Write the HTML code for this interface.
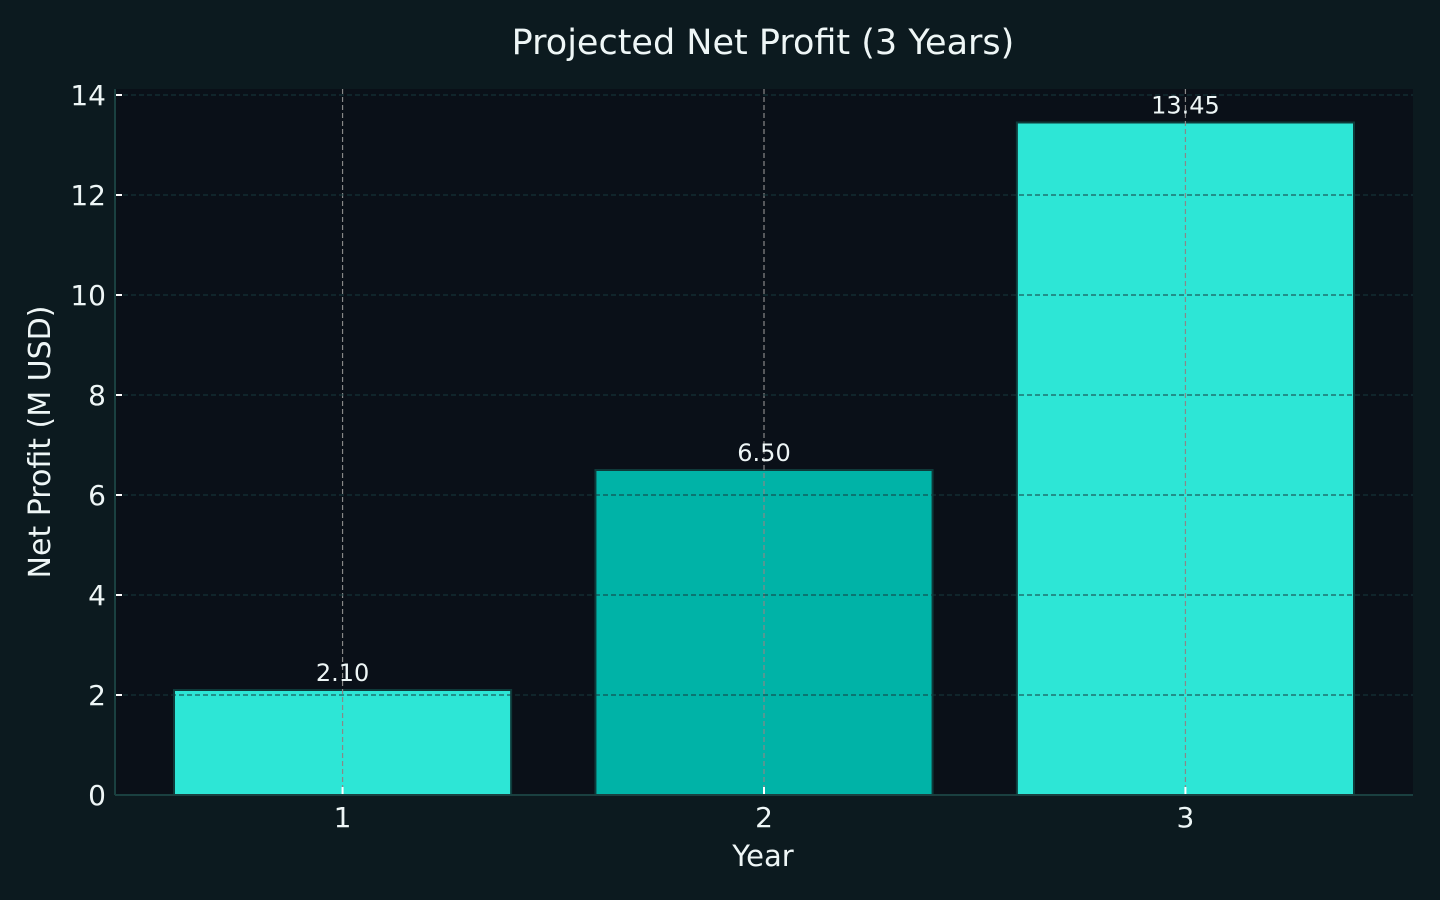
<!DOCTYPE html>
<html><head><meta charset="utf-8"><style>
html,body{margin:0;padding:0;background:#0c1a1f;}
svg{display:block;font-family:"DejaVu Sans","Liberation Sans",sans-serif;}
</style></head><body>
<svg id="chart" width="1440" height="900" viewBox="0 0 1440 900">
<rect x="0" y="0" width="1440" height="900" fill="#0c1a1f"/>
<rect x="115" y="89" width="1298" height="706" fill="#0a1018"/>
<text x="763" y="54" text-anchor="middle" font-size="35" fill="#eef6f6">Projected Net Profit (3 Years)</text>
<text x="763" y="866" text-anchor="middle" font-size="29" fill="#eef6f6">Year</text>
<text transform="translate(50,442) rotate(-90)" text-anchor="middle" font-size="30" fill="#eef6f6">Net Profit (M USD)</text>
<g id="bars"></g><g id="grid"></g><g id="axes"></g><g id="labels"></g>
</svg>
<script>
const categories = ["1","2","3"];
const values = [2.10, 6.50, 13.45];
const valueLabels = ["2.10","6.50","13.45"];
const yTicks = [0,2,4,6,8,10,12,14];
const barColors = ["#2de6d6","#00b3a7","#2de6d6"];

const NS="http://www.w3.org/2000/svg";
const L=115,R=1413,T=89,B=795;
const xMin=0.46,xMax=3.54,yMin=0,yMax=14.12;
function xs(v){return L+(v-xMin)/(xMax-xMin)*(R-L);}
function ys(v){return B-(v-yMin)/(yMax-yMin)*(B-T);}
function mk(tag,attrs,parent){const e=document.createElementNS(NS,tag);for(const k in attrs)e.setAttribute(k,attrs[k]);document.getElementById(parent).appendChild(e);return e;}

categories.forEach((c,i)=>{
  const x=i+1, w=0.8;
  const r=mk('rect',{x:xs(x-w/2),y:ys(values[i]),width:xs(x+w/2)-xs(x-w/2),height:ys(0)-ys(values[i]),fill:barColors[i],stroke:'#0f3a3a','stroke-width':2},'bars');
  
  
  const t=mk('text',{x:xs(x),y:ys(values[i])-9,'text-anchor':'middle','font-size':24,fill:'#eef6f6'},'labels');
  t.textContent=valueLabels[i];
  
  
  const g=mk('line',{x1:xs(x),x2:xs(x),y1:T,y2:B,stroke:'#888','stroke-width':1.2,'stroke-dasharray':'5,3'},'grid');
  
  
  const tk=mk('line',{x1:xs(x),x2:xs(x),y1:B,y2:B-8,stroke:'#fff','stroke-width':2},'axes');
  
  
  const tl=mk('text',{x:xs(x),y:B+32,'text-anchor':'middle','font-size':28,fill:'#eef6f6'},'axes');
  tl.textContent=c;
  
  
});
yTicks.forEach(v=>{
  if(v>0){
    const g=mk('line',{x1:L,x2:R,y1:ys(v),y2:ys(v),stroke:'#163a3e','stroke-width':1,'stroke-dasharray':'5,3'},'grid');
    
    
  }
  const tk=mk('line',{x1:L,x2:L+7,y1:ys(v),y2:ys(v),stroke:'#fff','stroke-width':2},'axes');
  
  
  const tl=mk('text',{x:L-9,y:ys(v)+10,'text-anchor':'end','font-size':28,fill:'#eef6f6'},'axes');
  tl.textContent=String(v);
  
  
});
const ya=mk('line',{x1:L,x2:L,y1:T,y2:B,stroke:'#1a4040','stroke-width':2},'axes');


const xa=mk('line',{x1:L,x2:R,y1:B,y2:B,stroke:'#1a4040','stroke-width':2},'axes');


</script>
</body></html>
